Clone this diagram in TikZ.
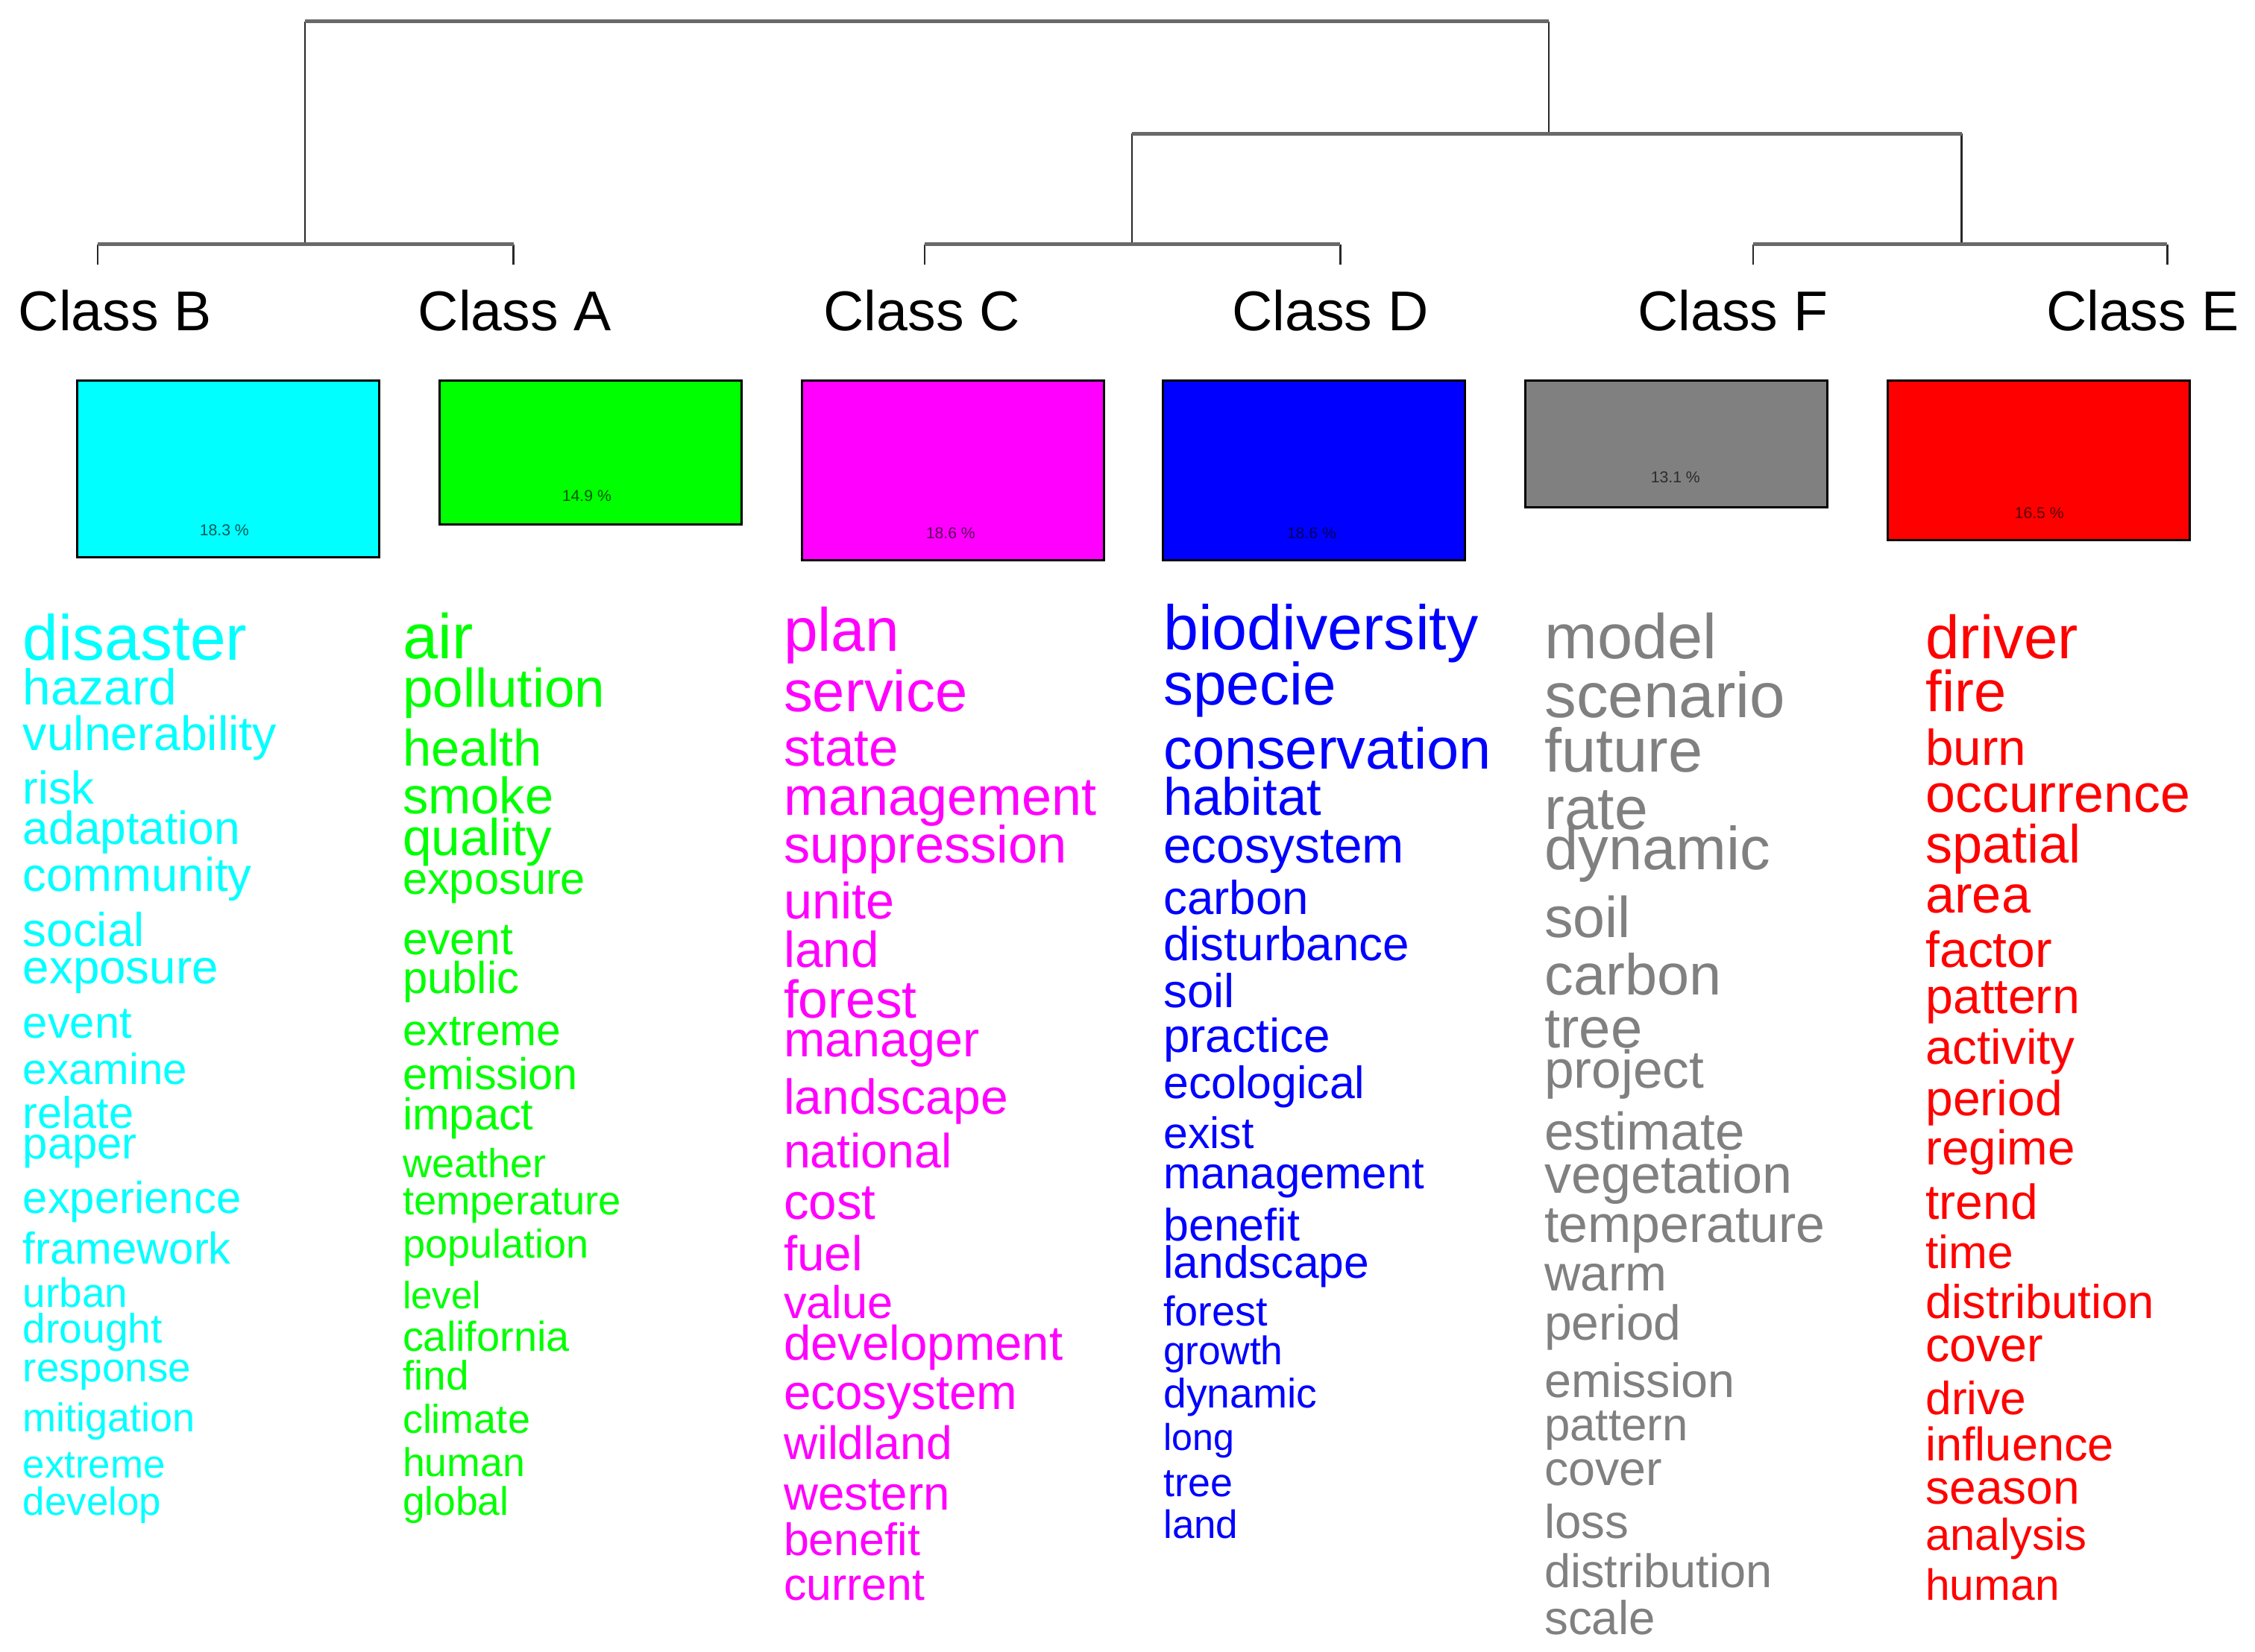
\documentclass[tikz,border=0pt]{standalone}
\usepackage{fontspec}
\setmainfont{Liberation Sans}
\definecolor{cB}{RGB}{0,255,255}
\definecolor{cA}{RGB}{0,255,0}
\definecolor{cC}{RGB}{255,0,255}
\definecolor{cD}{RGB}{0,0,255}
\definecolor{cF}{RGB}{128,128,128}
\definecolor{cE}{RGB}{255,0,0}
\definecolor{hcol}{RGB}{105,105,105}
\definecolor{vcol}{RGB}{40,40,40}
\tikzset{
  hline/.style={line width=2.6pt, draw=hcol},
  vline/.style={line width=1.3pt, draw=vcol},
  classlabel/.style={anchor=base, inner sep=0pt, font=\fontsize{39}{39}\selectfont},
  clbox/.style={draw=black, line width=1.6pt, anchor=north west, minimum width=210pt, inner sep=0pt},
  pct/.style={inner sep=0pt, text=black, text opacity=0.65, font=\fontsize{11}{11}\selectfont},
  word/.style={anchor=base west, inner sep=0pt, outer sep=0pt}
}
\begin{document}
\begin{tikzpicture}[x=1pt,y=-1pt]
\useasboundingbox[fill=white] (0,0) rectangle (1568,1149);
% dendrogram coordinates
\coordinate (lB) at (68,184);
\coordinate (lA) at (357,184);
\coordinate (lC) at (643,184);
\coordinate (lD) at (932,184);
\coordinate (lF) at (1219,184);
\coordinate (lE) at (1507,184);
\coordinate (jBA) at (212,170);
\coordinate (jCD) at (787,170);
\coordinate (jFE) at (1364,170);
\coordinate (jR) at (1077,93);
\coordinate (root) at (644.5,15);
% verticals
\draw[vline] (lB) -- (lB |- jBA);
\draw[vline] (lA) -- (lA |- jBA);
\draw[vline] (lC) -- (lC |- jCD);
\draw[vline] (lD) -- (lD |- jCD);
\draw[vline] (lF) -- (lF |- jFE);
\draw[vline] (lE) -- (lE |- jFE);
\draw[vline] (jBA) -- (jBA |- root);
\draw[vline] (jR) -- (jR |- root);
\draw[vline] (jCD) -- (jCD |- jR);
\draw[vline] (jFE) -- (jFE |- jR);
% horizontals
\draw[hline] (lB |- jBA) -- (lA |- jBA);
\draw[hline] (lC |- jCD) -- (lD |- jCD);
\draw[hline] (lF |- jFE) -- (lE |- jFE);
\draw[hline] (jCD |- jR) -- (jFE |- jR);
\draw[hline] (jBA |- root) -- (jR |- root);
% class labels
\node[classlabel] (tB) at (80,230) {Class B};
\node[classlabel] (tA) at (358,230) {Class A};
\node[classlabel] (tC) at (641,230) {Class C};
\node[classlabel] (tD) at (925,230) {Class D};
\node[classlabel] (tF) at (1205,230) {Class F};
\node[classlabel] (tE) at (1490,230) {Class E};
% boxes
\node[clbox, fill=cB, minimum height=123pt] (bxB) at (53,264) {};
\node[clbox, fill=cA, minimum height=100pt] (bxA) at (305,264) {};
\node[clbox, fill=cC, minimum height=125pt] (bxC) at (557,264) {};
\node[clbox, fill=cD, minimum height=125pt] (bxD) at (808,264) {};
\node[clbox, fill=cF, minimum height=88pt] (bxF) at (1060,264) {};
\node[clbox, fill=cE, minimum height=111pt] (bxE) at (1312,264) {};
\node[pct] (pB) at (156,369) {18.3 \%};
\node[pct] (pA) at (408,345) {14.9 \%};
\node[pct] (pC) at (661,371) {18.6 \%};
\node[pct] (pD) at (912,371) {18.6 \%};
\node[pct] (pF) at (1165,332) {13.1 \%};
\node[pct] (pE) at (1418,357) {16.5 \%};
% Class B words
\foreach \wy/\wsz/\wtx [count=\i] in {459/44.5/disaster, 490/35/hazard, 522/33.4/vulnerability, 559/32/risk, 587/32.3/adaptation, 620/32.9/community, 658/33/social, 684/33/exposure, 722/31/event, 754/30.2/examine, 785/30.8/relate, 806/31/paper, 844/31/experience, 879/31/framework, 909/28.5/urban, 934/28.6/drought, 961/28.4/response, 996/28/mitigation, 1028/27.4/extreme, 1054/27.4/develop}
  \node[word, text=cB, font=\fontsize{\wsz}{\wsz}\selectfont] (wB\i) at (16,\wy) {\wtx};
% Class A words
\foreach \wy/\wsz/\wtx [count=\i] in {458/44/air, 492/37.8/pollution, 533/35.6/health, 566/35.6/smoke, 595/36/quality, 622/30.9/exposure, 664/31.4/event, 691/31/public, 727/30.5/extreme, 758/30.9/emission, 786/30.9/impact, 819/28.1/weather, 845/28.2/temperature, 875/28/population, 910/26.5/level, 940/29/california, 967/28.5/find, 997/28/climate, 1027/27.8/human, 1054/27.7/global}
  \node[word, text=cA, font=\fontsize{\wsz}{\wsz}\selectfont] (wA\i) at (280,\wy) {\wtx};
% Class C words
\foreach \wy/\wsz/\wtx [count=\i] in {453/42.5/plan, 495/40.3/service, 533/36.8/state, 567/37.3/management, 600/36.5/suppression, 639/35.5/unite, 673/35/land, 708/37/forest, 735/34.5/manager, 775/34.2/landscape, 812/33.4/national, 848/34.9/cost, 884/34/fuel, 917/31.8/value, 946/33.9/development, 980/34/ecosystem, 1015/32.4/wildland, 1050/33/western, 1082/31.6/benefit, 1113/31.5/current}
  \node[word, text=cC, font=\fontsize{\wsz}{\wsz}\selectfont] (wC\i) at (545,\wy) {\wtx};
% Class D words
\foreach \wy/\wsz/\wtx [count=\i] in {452/43.8/biodiversity, 490/41.5/specie, 535/40.2/conservation, 567/36.6/habitat, 600/35/ecosystem, 636/33/carbon, 668/33.1/disturbance, 701/33/soil, 732/33.1/practice, 764/31.5/ecological, 799/30.6/exist, 827/31.1/management, 863/31.6/benefit, 889/31.4/landscape, 922/29/forest, 949/27.7/growth, 979/28.7/dynamic, 1009/26/long, 1041/27.9/tree, 1070/27.5/land}
  \node[word, text=cD, font=\fontsize{\wsz}{\wsz}\selectfont] (wD\i) at (809,\wy) {\wtx};
% Class F words
\foreach \wy/\wsz/\wtx [count=\i] in {458/44/model, 499/44.3/scenario, 537/43/future, 577/41.8/rate, 605/42.2/dynamic, 652/40/soil, 692/40.2/carbon, 729/39.5/tree, 757/37/project, 800/36.8/estimate, 830/37.3/vegetation, 864/36.2/temperature, 898/34.8/warm, 932/34.2/period, 972/33.5/emission, 1002/32/pattern, 1033/33.5/cover, 1070/33/loss, 1104/32.7/distribution, 1137/33/scale}
  \node[word, text=cF, font=\fontsize{\wsz}{\wsz}\selectfont] (wF\i) at (1074,\wy) {\wtx};
% Class E words
\foreach \wy/\wsz/\wtx [count=\i] in {458/42.4/driver, 495/40.3/fire, 532/35/burn, 565/37.2/occurrence, 600/37.4/spatial, 635/36.5/area, 673/35.2/factor, 705/34.4/pattern, 740/34/activity, 776/34.2/period, 810/34/regime, 848/34.2/trend, 882/32.3/time, 917/32.9/distribution, 947/33.5/cover, 984/32.3/drive, 1016/32.7/influence, 1046/33.2/season, 1078/31/analysis, 1113/30.4/human}
  \node[word, text=cE, font=\fontsize{\wsz}{\wsz}\selectfont] (wE\i) at (1339,\wy) {\wtx};
\end{tikzpicture}
\end{document}
